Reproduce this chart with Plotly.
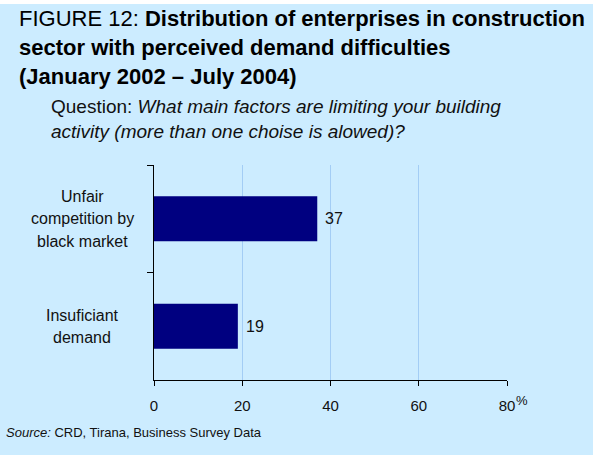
import plotly.graph_objects as go

# Survey answers (share of enterprises, %)
categories = ["Unfair<br>competition by<br>black market", "Insuficiant<br>demand"]
values = [37, 19]
x_ticks = [0, 20, 40, 60, 80]

W, H = 595, 455
L, R, T, B = 154, 88, 165, 75
PW, PH = W - L - R, H - T - B
BG = "#CCECFF"
FONT = "Liberation Sans, Arial, sans-serif"


def px(x):
    return (x - L) / PW


def py(y):
    return (H - B - y) / PH


fig = go.Figure(
    go.Bar(
        x=values,
        y=categories,
        orientation="h",
        marker=dict(color="#000080", line=dict(width=0)),
        width=0.42,
        hoverinfo="skip",
    )
)

annotations = []

# Value labels beside each bar
for cat, v in zip(categories, values):
    annotations.append(dict(
        text=str(v), xref="x", yref="y", x=v, y=cat,
        xanchor="left", yanchor="middle", xshift=6, showarrow=False,
        font=dict(size=16, color="#111111", family=FONT),
    ))

# Title block
title_lines = [
    ("FIGURE 12: <b>Distribution of enterprises in construction</b>", 18.5),
    ("<b>sector with perceived demand difficulties</b>", 47.5),
    ("<b>(January 2002 – July 2004)</b>", 76),
]
for txt, yc in title_lines:
    annotations.append(dict(
        text=txt, xref="paper", yref="paper", x=px(17), y=py(yc),
        xanchor="left", yanchor="middle", showarrow=False,
        font=dict(size=22, color="#000000", family=FONT),
    ))

question_lines = [
    ("Question: <i>What main factors are limiting your building</i>", 106.5),
    ("<i>activity (more than one choise is alowed)?</i>", 132),
]
for txt, yc in question_lines:
    annotations.append(dict(
        text=txt, xref="paper", yref="paper", x=px(49), y=py(yc),
        xanchor="left", yanchor="middle", showarrow=False,
        font=dict(size=19, color="#111111", family=FONT),
    ))

# Category labels, centred, one annotation per line
line_gap = 22.5
for cat in categories:
    parts = cat.split("<br>")
    n = len(parts)
    for i, part in enumerate(parts):
        annotations.append(dict(
            text=part, xref="paper", yref="y", x=px(82), y=cat,
            xanchor="center", yanchor="middle", showarrow=False,
            yshift=((n - 1) / 2 - i) * line_gap,
            font=dict(size=16, color="#111111", family=FONT),
        ))

# Unit mark next to the last tick
annotations.append(dict(
    text="%", xref="x", yref="paper", x=x_ticks[-1], y=py(400),
    xanchor="center", yanchor="middle", xshift=15, showarrow=False,
    font=dict(size=13, color="#111111", family=FONT),
))

annotations.append(dict(
    text="<i>Source:</i> CRD, Tirana, Business Survey Data",
    xref="paper", yref="paper", x=px(4), y=py(432),
    xanchor="left", yanchor="middle", showarrow=False,
    font=dict(size=13, color="#111111", family=FONT),
))

shapes = [
    dict(type="rect", xref="paper", yref="paper", layer="below",
         x0=px(0), x1=px(593), y0=py(H), y1=py(4),
         fillcolor=BG, line=dict(width=0)),
]

fig.update_layout(
    width=W, height=H,
    margin=dict(l=L, r=R, t=T, b=B, pad=0),
    paper_bgcolor="#FFFFFF",
    plot_bgcolor="rgba(0,0,0,0)",
    font=dict(family=FONT, color="#111111"),
    showlegend=False,
    annotations=annotations,
    shapes=shapes,
    xaxis=dict(
        range=[0, 80], tickvals=x_ticks, ticktext=[str(v) for v in x_ticks],
        showgrid=True, gridcolor="#A3CDF5", gridwidth=1,
        zeroline=False,
        showline=True, linecolor="#000000", linewidth=1,
        ticks="outside", ticklen=5, tickcolor="#000000", tickwidth=1,
        tickfont=dict(size=15, color="#111111", family=FONT),
        ticklabelstandoff=7,
        fixedrange=True,
    ),
    yaxis=dict(
        type="category", range=[1.5, -0.5],
        showticklabels=False, showgrid=False, zeroline=False,
        showline=True, linecolor="#000000", linewidth=1,
        ticks="outside", tickson="boundaries", ticklen=6,
        tickcolor="#000000", tickwidth=1,
        fixedrange=True,
    ),
)

fig.write_html("out.html", config={"displayModeBar": False})
